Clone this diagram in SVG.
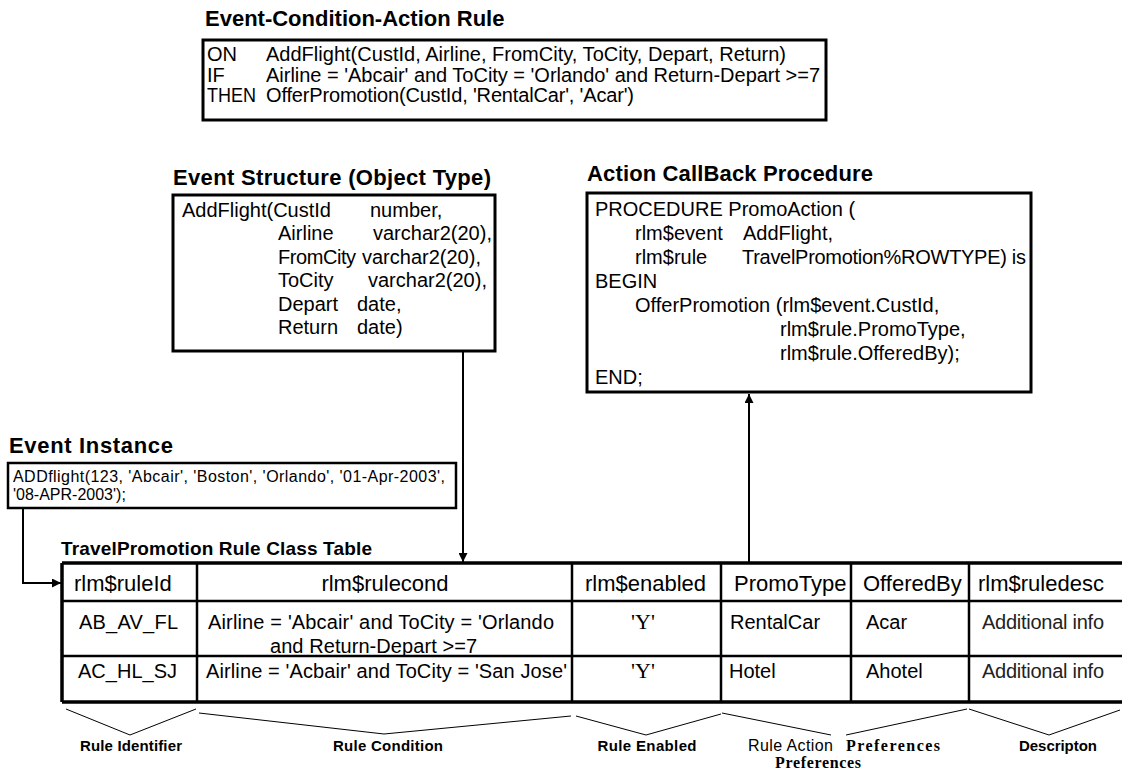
<svg xmlns="http://www.w3.org/2000/svg" width="1122" height="772" viewBox="0 0 1122 772">
<defs>
<marker id="ah" viewBox="0 0 10 10" refX="10" refY="5" markerWidth="10" markerHeight="9" markerUnits="userSpaceOnUse" orient="auto"><path d="M0,0 L10,5 L0,10 z" fill="#000"/></marker>
</defs>
<style>
text{font-family:"Liberation Sans",Arial,Helvetica,sans-serif;fill:#000}
.t{font-weight:bold;font-size:22px}
.b{font-size:20px}
.h{font-size:22px}
.s{font-size:16px}
.box{fill:#fff;stroke:#000;stroke-width:3}
.ln{stroke:#000;stroke-width:2;fill:none}
.tl{stroke:#000;stroke-width:2.5;fill:none}
.to{stroke:#000;stroke-width:3.5;fill:none}
.br{stroke:#000;stroke-width:1;fill:none}
.lab{font-weight:bold;font-size:15px}
.ser{font-family:"Liberation Serif","Times New Roman",serif}
.info{fill:#222}
</style>
<rect width="1122" height="772" fill="#fff"/>

<g id="eca-rule">
<text class="t" x="205" y="26">Event-Condition-Action Rule</text>
<rect class="box" x="203" y="40" width="623" height="80"/>
<text class="b" x="207" y="61">ON</text>
<text class="b" x="266" y="61" textLength="520">AddFlight(CustId, Airline, FromCity, ToCity, Depart, Return)</text>
<text class="b" x="207" y="82">IF</text>
<text class="b" x="266" y="82" textLength="554">Airline = 'Abcair' and ToCity = 'Orlando' and Return-Depart &gt;=7</text>
<text class="b" x="207" y="102" textLength="49" lengthAdjust="spacingAndGlyphs">THEN</text>
<text class="b" x="266" y="102" textLength="368">OfferPromotion(CustId, 'RentalCar', 'Acar')</text>
</g>

<g id="event-structure">
<text class="t" x="173" y="185" textLength="318">Event Structure (Object Type)</text>
<rect class="box" x="173" y="195" width="322" height="156"/>
<text class="b" x="182" y="217">AddFlight(CustId</text>
<text class="b" x="370" y="217">number,</text>
<text class="b" x="278" y="240">Airline</text>
<text class="b" x="373" y="240">varchar2(20),</text>
<text class="b" x="278" y="264" textLength="78">FromCity</text>
<text class="b" x="362" y="264">varchar2(20),</text>
<text class="b" x="278" y="287">ToCity</text>
<text class="b" x="368" y="287">varchar2(20),</text>
<text class="b" x="278" y="311">Depart</text>
<text class="b" x="357" y="311">date,</text>
<text class="b" x="278" y="334">Return</text>
<text class="b" x="357" y="334">date)</text>
</g>

<g id="action-callback">
<text class="t" x="587" y="181" textLength="286">Action CallBack Procedure</text>
<rect class="box" x="587" y="193" width="444" height="199"/>
<text class="b" x="595" y="216">PROCEDURE PromoAction (</text>
<text class="b" x="635" y="240">rlm$event</text>
<text class="b" x="743" y="240">AddFlight,</text>
<text class="b" x="635" y="264">rlm$rule</text>
<text class="b" x="742" y="264" textLength="284">TravelPromotion%ROWTYPE) is</text>
<text class="b" x="595" y="288">BEGIN</text>
<text class="b" x="635" y="312">OfferPromotion (rlm$event.CustId,</text>
<text class="b" x="780" y="336">rlm$rule.PromoType,</text>
<text class="b" x="780" y="360">rlm$rule.OfferedBy);</text>
<text class="b" x="595" y="384">END;</text>
</g>

<g id="event-instance">
<text class="t" x="9" y="453" textLength="164">Event Instance</text>
<rect x="8" y="463" width="448" height="45" fill="#fff" stroke="#000" stroke-width="2.5"/>
<text class="s" x="13" y="482" textLength="432">ADDflight(123, 'Abcair', 'Boston', 'Orlando', '01-Apr-2003',</text>
<text class="s" x="13" y="500">'08-APR-2003');</text>
</g>

<g id="rule-class-table">
<text x="61" y="555" font-weight="bold" font-size="19" textLength="311">TravelPromotion Rule Class Table</text>
<path class="to" d="M62,563 H1122 M62,702 H1122 M62,563 V702"/>
<path class="tl" d="M62,601 H1122 M62,656 H1122"/>
<path class="tl" d="M197,563 V702 M572,563 V702 M721,563 V702 M851,563 V702 M969,563 V702"/>
<text class="h" x="74" y="591">rlm$ruleId</text>
<text class="h" x="385" y="591" text-anchor="middle">rlm$rulecond</text>
<text class="h" x="585" y="591">rlm$enabled</text>
<text class="h" x="734" y="591" font-size="21">PromoType</text>
<text class="h" x="863" y="591" font-size="21">OfferedBy</text>
<text class="h" x="978" y="591">rlm$ruledesc</text>
<text class="b" x="79" y="629" textLength="99">AB_AV_FL</text>
<text class="b" x="208" y="629" textLength="346">Airline = 'Abcair' and ToCity = 'Orlando</text>
<text class="b" x="270" y="653" textLength="207">and Return-Depart &gt;=7</text>
<text class="ser" x="643" y="629" font-size="22" text-anchor="middle">'Y'</text>
<text class="b" x="730" y="629">RentalCar</text>
<text class="b" x="866" y="629">Acar</text>
<text class="b info" x="982" y="629" textLength="122">Additional info</text>
<text class="b" x="78" y="678" textLength="99">AC_HL_SJ</text>
<text class="b" x="206" y="678" textLength="361">Airline = 'Acbair' and ToCity = 'San Jose'</text>
<text class="ser" x="643" y="678" font-size="22" text-anchor="middle">'Y'</text>
<text class="b" x="729" y="678">Hotel</text>
<text class="b" x="866" y="678">Ahotel</text>
<text class="b info" x="982" y="678" textLength="122">Additional info</text>
</g>

<g id="connectors">
<path class="ln" d="M463,351 V562" marker-end="url(#ah)"/>
<path class="ln" d="M749,563 V394" marker-end="url(#ah)"/>
<path class="ln" d="M23,508 V583 H61" marker-end="url(#ah)"/>
</g>

<g id="braces">
<path class="br" d="M66,709 L130,735 L196,709"/>
<path class="br" d="M199,713 L384,734 L571,716"/>
<path class="br" d="M576,716 L646,735 L721,714"/>
<path class="br" d="M722,713 L831,735"/>
<path class="br" d="M846,735 L967,709"/>
<path class="br" d="M969,709 L1049,735 L1120,710"/>
</g>

<g id="labels">
<text class="lab" x="131" y="751" text-anchor="middle" textLength="102">Rule Identifier</text>
<text class="lab" x="388" y="751" text-anchor="middle" textLength="110">Rule Condition</text>
<text class="lab" x="647" y="751" text-anchor="middle" textLength="99">Rule Enabled</text>
<text x="748" y="751" font-size="16" fill="#333" textLength="85">Rule Action</text>
<text class="ser" x="846" y="751" font-size="16" font-weight="bold" textLength="94">Preferences</text>
<text class="ser" x="775" y="768" font-size="16" font-weight="bold" textLength="86">Preferences</text>
<text class="lab" x="1058" y="751" text-anchor="middle" textLength="78">Descripton</text>
</g>
</svg>
